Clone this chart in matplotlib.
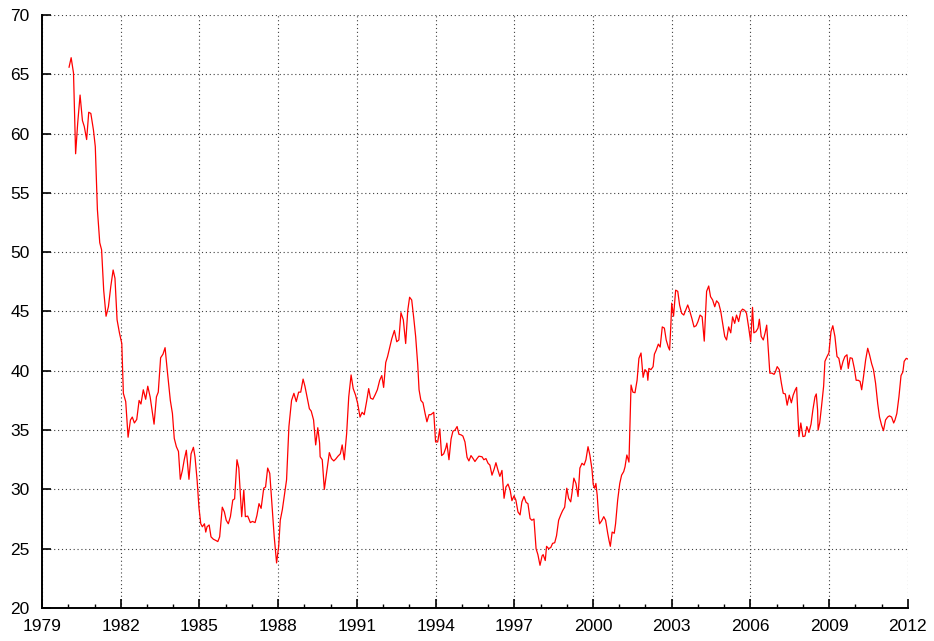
import numpy as np
import matplotlib
matplotlib.use("Agg")
import matplotlib.pyplot as plt
from matplotlib.ticker import MultipleLocator

# Values (decimal year, value)
years = [
    1980.03, 1980.11, 1980.20, 1980.28, 1980.36, 1980.45, 1980.54, 1980.61, 1980.70, 1980.78,
    1980.86, 1980.96, 1981.03, 1981.11, 1981.20, 1981.27, 1981.35, 1981.44, 1981.53, 1981.62,
    1981.71, 1981.78, 1981.86, 1981.95, 1982.04, 1982.10, 1982.19, 1982.28, 1982.37, 1982.44,
    1982.52, 1982.61, 1982.70, 1982.77, 1982.86, 1982.95, 1983.03, 1983.12, 1983.27, 1983.36,
    1983.43, 1983.52, 1983.61, 1983.69, 1983.77, 1983.89, 1983.97, 1984.04, 1984.12, 1984.20,
    1984.27, 1984.35, 1984.42, 1984.50, 1984.60, 1984.68, 1984.77, 1984.83, 1984.91, 1984.98,
    1985.05, 1985.11, 1985.19, 1985.24, 1985.29, 1985.37, 1985.44, 1985.53, 1985.62, 1985.70,
    1985.77, 1985.87, 1985.95, 1986.02, 1986.10, 1986.18, 1986.27, 1986.34, 1986.43, 1986.50,
    1986.61, 1986.69, 1986.75, 1986.84, 1986.94, 1987.02, 1987.12, 1987.19, 1987.27, 1987.35,
    1987.45, 1987.52, 1987.60, 1987.68, 1987.77, 1987.85, 1987.94, 1988.02, 1988.08, 1988.16,
    1988.23, 1988.32, 1988.41, 1988.51, 1988.60, 1988.69, 1988.78, 1988.86, 1988.95, 1989.02,
    1989.10, 1989.19, 1989.26, 1989.35, 1989.43, 1989.51, 1989.58, 1989.60, 1989.68, 1989.76,
    1989.86, 1989.95, 1990.03, 1990.12, 1990.19, 1990.28, 1990.37, 1990.44, 1990.52, 1990.61,
    1990.69, 1990.78, 1990.86, 1990.95, 1991.03, 1991.12, 1991.20, 1991.28, 1991.37, 1991.45,
    1991.52, 1991.61, 1991.69, 1991.78, 1991.87, 1991.95, 1992.02, 1992.10, 1992.17, 1992.25,
    1992.33, 1992.43, 1992.52, 1992.60, 1992.68, 1992.77, 1992.86, 1992.94, 1993.01, 1993.09,
    1993.17, 1993.24, 1993.32, 1993.37, 1993.44, 1993.52, 1993.60, 1993.67, 1993.75, 1993.82,
    1993.93, 1994.00, 1994.08, 1994.16, 1994.23, 1994.31, 1994.39, 1994.43, 1994.51, 1994.59,
    1994.66, 1994.74, 1994.82, 1994.89, 1994.97, 1995.04, 1995.12, 1995.20, 1995.27, 1995.35,
    1995.43, 1995.50, 1995.58, 1995.65, 1995.77, 1995.84, 1995.92, 1996.00, 1996.07, 1996.15,
    1996.23, 1996.30, 1996.38, 1996.45, 1996.53, 1996.61, 1996.68, 1996.76, 1996.84, 1996.91,
    1996.99, 1997.06, 1997.14, 1997.22, 1997.29, 1997.37, 1997.45, 1997.52, 1997.60, 1997.67,
    1997.75, 1997.83, 1997.90, 1997.98, 1998.06, 1998.10, 1998.18, 1998.23, 1998.31, 1998.39,
    1998.46, 1998.54, 1998.61, 1998.69, 1998.77, 1998.84, 1998.92, 1999.00, 1999.07, 1999.15,
    1999.20, 1999.27, 1999.35, 1999.43, 1999.50, 1999.58, 1999.66, 1999.73, 1999.81, 1999.88,
    1999.96, 2000.01, 2000.06, 2000.11, 2000.16, 2000.22, 2000.25, 2000.33, 2000.41, 2000.48,
    2000.56, 2000.61, 2000.66, 2000.73, 2000.81, 2000.86, 2000.94, 2001.02, 2001.09, 2001.17,
    2001.22, 2001.29, 2001.37, 2001.45, 2001.52, 2001.60, 2001.68, 2001.75, 2001.83, 2001.91,
    2001.98, 2002.06, 2002.09, 2002.13, 2002.21, 2002.29, 2002.34, 2002.41, 2002.49, 2002.56,
    2002.64, 2002.72, 2002.79, 2002.87, 2002.92, 2002.97, 2003.00, 2003.07, 2003.15, 2003.23,
    2003.30, 2003.38, 2003.46, 2003.53, 2003.61, 2003.68, 2003.77, 2003.85, 2003.93, 2004.00,
    2004.08, 2004.16, 2004.24, 2004.33, 2004.41, 2004.48, 2004.56, 2004.64, 2004.71, 2004.79,
    2004.87, 2004.94, 2005.02, 2005.09, 2005.17, 2005.25, 2005.32, 2005.40, 2005.47, 2005.55,
    2005.63, 2005.70, 2005.78, 2005.85, 2005.93, 2006.01, 2006.08, 2006.13, 2006.21, 2006.29,
    2006.34, 2006.41, 2006.49, 2006.56, 2006.62, 2006.69, 2006.74, 2006.82, 2006.90, 2006.95,
    2007.02, 2007.10, 2007.18, 2007.25, 2007.33, 2007.40, 2007.48, 2007.56, 2007.63, 2007.71,
    2007.76, 2007.80, 2007.85, 2007.92, 2008.00, 2008.08, 2008.15, 2008.23, 2008.31, 2008.38,
    2008.46, 2008.51, 2008.56, 2008.58, 2008.64, 2008.71, 2008.79, 2008.84, 2008.92, 2008.99,
    2009.07, 2009.14, 2009.22, 2009.30, 2009.37, 2009.45, 2009.53, 2009.60, 2009.68, 2009.73,
    2009.80, 2009.88, 2009.96, 2010.03, 2010.11, 2010.18, 2010.24, 2010.31, 2010.39, 2010.47,
    2010.54, 2010.62, 2010.69, 2010.77, 2010.85, 2010.92, 2011.00, 2011.07, 2011.15, 2011.23,
    2011.30, 2011.38, 2011.46, 2011.51, 2011.58, 2011.66, 2011.74, 2011.81, 2011.86, 2011.94,
    2011.99,
]
values = [
    65.6, 66.4, 65.1, 58.3, 60.9, 63.25, 61.1, 60.6, 59.5, 61.8,
    61.7, 60.3, 58.9, 53.6, 50.8, 50.2, 46.8, 44.6, 45.4, 47.1,
    48.5, 47.8, 44.3, 43.2, 42.3, 38.1, 37.4, 34.4, 35.85, 36.1,
    35.6, 35.9, 37.5, 37.2, 38.4, 37.6, 38.7, 37.8, 35.5, 37.8,
    38.2, 41.1, 41.4, 41.95, 40.1, 37.5, 36.4, 34.3, 33.6, 33.2,
    30.85, 31.6, 32.5, 33.3, 30.85, 33.0, 33.55, 32.75, 30.8, 28.5,
    27.1, 26.85, 27.1, 26.4, 26.85, 27.0, 26.0, 25.8, 25.7, 25.6,
    26.0, 28.5, 28.1, 27.4, 27.1, 27.7, 29.1, 29.2, 32.5, 31.8,
    27.7, 29.95, 27.7, 27.75, 27.2, 27.3, 27.2, 27.8, 28.8, 28.4,
    30.1, 30.2, 31.8, 31.35, 28.5, 26.0, 23.8, 25.2, 27.4, 28.3,
    29.4, 30.8, 35.3, 37.5, 38.1, 37.4, 38.2, 38.2, 39.3, 38.7,
    37.8, 36.8, 36.6, 35.85, 33.75, 35.2, 33.9, 32.75, 32.5, 30.0,
    31.6, 33.1, 32.6, 32.4, 32.55, 32.8, 33.0, 33.75, 32.5, 34.7,
    37.8, 39.65, 38.5, 37.95, 37.25, 36.1, 36.5, 36.3, 37.4, 38.5,
    37.7, 37.6, 37.95, 38.4, 39.2, 39.6, 38.6, 40.7, 41.2, 41.95,
    42.7, 43.4, 42.45, 42.6, 44.9, 44.3, 42.3, 45.1, 46.2, 45.97,
    44.4, 42.9, 40.5, 38.4, 37.5, 37.3, 36.4, 35.7, 36.3, 36.3,
    36.5, 34.0, 34.0, 35.1, 32.85, 33.0, 33.5, 33.9, 32.5, 34.25,
    34.9, 35.0, 35.3, 34.65, 34.6, 34.5, 34.0, 32.7, 32.4, 32.85,
    32.6, 32.35, 32.6, 32.8, 32.75, 32.5, 32.6, 32.2, 32.05, 31.2,
    31.7, 32.25, 31.6, 31.1, 31.6, 29.25, 30.2, 30.45, 29.95, 29.05,
    29.45, 29.1, 28.1, 27.85, 28.95, 29.4, 28.9, 28.8, 27.55, 27.4,
    27.5, 25.0, 24.5, 23.6, 24.4, 24.5, 24.0, 25.2, 25.0, 25.1,
    25.45, 25.5, 26.1, 27.4, 27.85, 28.2, 28.5, 30.1, 29.25, 28.95,
    29.7, 30.95, 30.5, 29.4, 31.8, 32.2, 32.05, 32.5, 33.6, 32.9,
    31.7, 30.4, 30.1, 30.5, 29.5, 27.55, 27.1, 27.35, 27.7, 27.4,
    26.3, 25.7, 25.2, 26.4, 26.3, 27.1, 29.1, 30.5, 31.2, 31.5,
    31.9, 32.9, 32.3, 38.8, 38.2, 38.15, 39.2, 41.05, 41.5, 39.45,
    40.1, 39.9, 39.2, 40.2, 40.1, 40.35, 41.4, 41.75, 42.25, 42.0,
    43.7, 43.6, 42.6, 42.0, 41.75, 44.0, 45.7, 44.6, 46.8, 46.7,
    45.55, 44.85, 44.7, 45.1, 45.55, 45.1, 44.4, 43.7, 43.8, 44.15,
    44.7, 44.55, 42.5, 46.7, 47.15, 46.25, 45.97, 45.4, 45.9, 45.7,
    45.0, 44.0, 42.9, 42.6, 43.7, 43.2, 44.55, 44.0, 44.7, 44.15,
    45.0, 45.2, 45.1, 44.85, 43.7, 42.45, 45.35, 43.2, 43.3, 43.6,
    44.35, 42.9, 42.6, 43.2, 43.85, 41.5, 39.8, 39.8, 39.7, 39.9,
    40.35, 40.1, 38.95, 38.1, 38.05, 37.1, 37.95, 37.3, 37.95, 38.4,
    38.6, 36.7, 34.45, 35.6, 34.45, 34.5, 35.3, 34.8, 35.5, 36.7,
    37.8, 38.05, 36.7, 35.0, 35.6, 37.0, 38.7, 40.8, 41.2, 41.5,
    43.3, 43.8, 42.9, 41.2, 41.05, 40.1, 40.8, 41.2, 41.35, 40.2,
    41.1, 41.05, 40.2, 39.2, 39.2, 39.1, 38.4, 39.5, 40.9, 41.9,
    41.35, 40.6, 40.1, 38.95, 37.25, 36.1, 35.4, 34.95, 35.85, 36.1,
    36.2, 36.1, 35.6, 35.85, 36.4, 37.8, 39.6, 39.9, 40.8, 41.05,
    41.0,
]
xticks = np.arange(1979, 2013, 3)
yticks = np.arange(20, 71, 5)

plt.rcParams['font.family'] = ['Liberation Sans', 'DejaVu Sans']

fig = plt.figure(figsize=(9.34, 6.41), dpi=100)
ax = fig.add_axes([0.045, 0.0515, 0.927, 0.9251])

ax.plot(years, values, color='red', linewidth=0.9)

ax.set_xlim(1979, 2012)
ax.set_ylim(20, 70)
ax.set_xticks(xticks)
ax.set_yticks(yticks)
ax.xaxis.set_minor_locator(MultipleLocator(1))

ax.grid(True, which='major', color='0.25', linestyle=(0, (1, 2.5)), linewidth=0.8)
ax.set_axisbelow(True)

for side in ['top', 'right']:
    ax.spines[side].set_visible(False)
for side in ['left', 'bottom']:
    ax.spines[side].set_linewidth(1.4)

ax.tick_params(axis='both', which='major', direction='in', length=6.5, width=1.2,
               labelsize=12.5, pad=8)
ax.tick_params(axis='x', which='minor', direction='in', length=3, width=1.0)
ax.tick_params(axis='y', which='major', pad=9)

fig.savefig('out.png', dpi=100)
plt.close(fig)
